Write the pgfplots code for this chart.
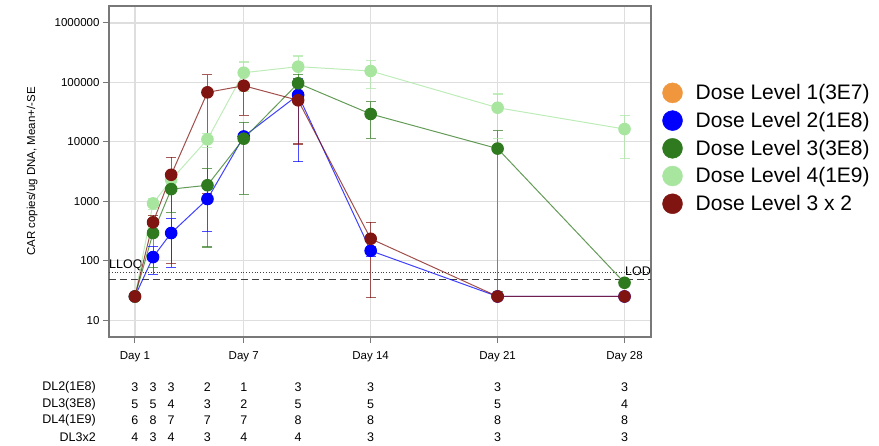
\documentclass[border=0pt]{standalone}
\usepackage{fontspec}
\setmainfont{Liberation Sans}
\usepackage{pgfplots}
\pgfplotsset{compat=1.18}
\definecolor{dlone}{RGB}{240,150,60}
\definecolor{dltwo}{RGB}{0,0,255}
\definecolor{dlthree}{RGB}{47,122,31}
\definecolor{dlfour}{RGB}{168,230,160}
\definecolor{dlx}{RGB}{128,20,16}
\definecolor{gridc}{RGB}{222,222,222}
\definecolor{framec}{RGB}{120,120,120}

\pgfplotsset{
  series/.style={line width=1pt, color=#1, draw opacity=0.75,
    mark=*, mark size=5.8pt, mark options={solid, fill=#1, draw=#1, draw opacity=1, fill opacity=1}},
  ebar/.style={forget plot, color=#1, draw opacity=0.7, line width=1.1pt, unbounded coords=jump,
    mark=-, mark size=5pt, mark options={solid, line width=1.1pt, draw=#1, draw opacity=0.7}},
  lgimg/.style={legend image code/.code={\fill[#1] (10pt,0pt) circle (10pt); \path (31pt,0pt);}}
}

\begin{document}
\begin{tikzpicture}[x=1pt,y=1pt]
\useasboundingbox (-109,-109) rectangle (770,337);
\begin{axis}[
  at={(0,0)}, anchor=south west,
  width=542pt, height=331pt, scale only axis,
  ymode=log, xmin=-0.43, xmax=29.46, ymin=5.2, ymax=1.93e6,
  clip=false,
  axis line style={draw=framec, line width=1.3pt},
  grid=major, major grid style={draw=gridc, line width=1.2pt},
  xtick={1,7,14,21,28},
  xticklabels={Day 1,Day 7,Day 14,Day 21,Day 28},
  ytick={10,100,1000,10000,100000,1000000},
  yticklabels={10,100,1000,10000,100000,1000000},
  minor ytick={}, yminorgrids=false,
  log basis y=10,
  tick align=outside, xtick pos=bottom, ytick pos=left,
  major tick length=6pt,
  tick style={draw=framec, line width=1pt},
  /pgf/number format/assume math mode=true,
  ticklabel style={font=\fontsize{11.5}{13}\selectfont},
  xticklabel style={yshift=-5pt},
  ylabel={CAR copies/ug DNA, Mean+/-SE},
  ylabel style={font=\fontsize{11.5}{13}\selectfont, at={(axis description cs:-0.142,0.5)}, anchor=center},
  legend cell align=left,
  legend style={draw=none, fill=none, font=\fontsize{21}{25}\selectfont,
    at={(axis description cs:1.015,0.57)}, anchor=west, row sep=7pt},
]
% legend
\addlegendimage{lgimg=dlone}
\addlegendentry{Dose Level 1(3E7)}
\addlegendimage{lgimg=dltwo}
\addlegendentry{Dose Level 2(1E8)}
\addlegendimage{lgimg=dlthree}
\addlegendentry{Dose Level 3(3E8)}
\addlegendimage{lgimg=dlfour}
\addlegendentry{Dose Level 4(1E9)}
\addlegendimage{lgimg=dlx}
\addlegendentry{Dose Level 3 x 2}

% reference lines
\addplot[forget plot, dotted, black!75, line width=0.8pt] coordinates {(-0.43,63.5) (29.46,63.5)};
\addplot[forget plot, dash pattern=on 7pt off 4pt, black!75, line width=0.8pt] coordinates {(-0.43,49) (29.46,49)};
\node[anchor=south west, inner sep=0pt, font=\fontsize{12.5}{13}\selectfont] at (axis cs:-0.43,66) {LLOQ};
\node[anchor=south east, inner sep=0pt, font=\fontsize{12.5}{13}\selectfont] at (axis cs:29.46,56) {LOD};

% error bars: mean - SE and mean + SE at each day
\addplot[ebar=dltwo] table {
x y
2 59
2 171
2 nan
3 77
3 507
3 nan
5 310
5 1870
5 nan
10 4600
10 118200
10 nan
14 119
14 175
};
\addplot[ebar=dlfour] table {
x y
2 720
2 1120
2 nan
3 2000
3 2600
3 nan
5 8000
5 14000
5 nan
7 70500
7 220500
7 nan
10 90000
10 278000
10 nan
14 79100
14 232100
14 nan
21 11200
21 63800
21 nan
28 5300
28 27500
};
\addplot[ebar=dlthree] table {
x y
2 77
2 507
2 nan
3 640
3 2560
3 nan
5 170
5 3550
5 nan
7 1300
7 21300
7 nan
10 56600
10 136600
10 nan
14 11500
14 47300
14 nan
21 30
21 15370
};
\addplot[ebar=dlx] table {
x y
2 302
2 582
2 nan
3 90
3 5490
3 nan
5 1360
5 134640
5 nan
7 28100
7 147700
7 nan
10 9200
10 90800
10 nan
14 24
14 444
};

% means
\addplot[forget plot, series=dltwo] table {
x y
1 25
2 115
3 292
5 1090
7 12300
10 61400
14 147
21 25
28 25
};
\addplot[forget plot, series=dlfour] table {
x y
1 25
2 920
3 2300
5 11000
7 145500
10 184000
14 155600
21 37500
28 16400
};
\addplot[forget plot, series=dlthree] table {
x y
1 25
2 292
3 1600
5 1860
7 11300
10 96600
14 29400
21 7700
28 42.5
};
\addplot[forget plot, series=dlx] table {
x y
1 25
2 442
3 2790
5 68000
7 87900
10 50000
14 234
21 25
28 25
};

\coordinate (d1) at (axis cs:1,10);
\coordinate (d2) at (axis cs:2,10);
\coordinate (d3) at (axis cs:3,10);
\coordinate (d5) at (axis cs:5,10);
\coordinate (d7) at (axis cs:7,10);
\coordinate (d10) at (axis cs:10,10);
\coordinate (d14) at (axis cs:14,10);
\coordinate (d21) at (axis cs:21,10);
\coordinate (d28) at (axis cs:28,10);
\end{axis}
% number-at-risk table
\begin{scope}[every node/.style={font=\fontsize{12.5}{13}\selectfont, inner sep=0pt}]
\node[anchor=east] at (-13,-50.5) {DL2(1E8)};
\node[anchor=east] at (-13,-67) {DL3(3E8)};
\node[anchor=east] at (-13,-83.5) {DL4(1E9)};
\node[anchor=east] at (-13,-100.5) {DL3x2};
\foreach \d/\a/\b/\c/\e in {1/3/5/6/4, 2/3/5/8/3, 3/3/4/7/4, 5/2/3/7/3, 7/1/2/7/4, 10/3/5/8/4, 14/3/5/8/3, 21/3/5/8/3, 28/3/4/8/3}{
  \node at (d\d |- 0,-50.5) {\a};
  \node at (d\d |- 0,-67) {\b};
  \node at (d\d |- 0,-83.5) {\c};
  \node at (d\d |- 0,-100.5) {\e};
}
\end{scope}
\end{tikzpicture}
\end{document}
